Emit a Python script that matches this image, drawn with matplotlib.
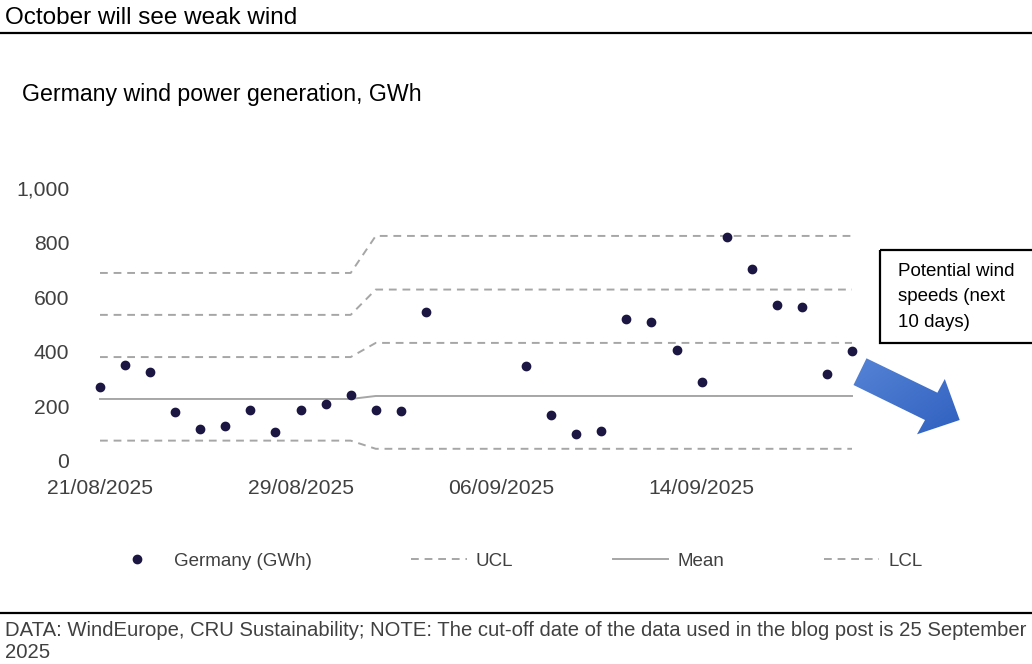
import matplotlib
matplotlib.use("Agg")
import matplotlib.pyplot as plt
import matplotlib.dates as mdates
from matplotlib.patches import Polygon, Rectangle
from matplotlib.lines import Line2D
from matplotlib.colors import LinearSegmentedColormap
import numpy as np
import pandas as pd

plt.rcParams['font.family'] = ['Liberation Sans', 'DejaVu Sans']

# ---------------- data ----------------
dates = pd.date_range("2025-08-21", "2025-09-20", freq="D")
germany_gwh = [269, 350, 324, 177, 115, 126, 184, 104, 184, 206, 240,
               184, 182, 544, np.nan, np.nan, np.nan, 346, 166, 96, 107,
               519, 508, 405, 287, 820, 702, 570, 563, 317, 401]
# control limits (August period, September period)
mean_vals = [226, 237]
ucl_vals = [689, 825]
sig2_vals = [535, 628]
sig1_vals = [380, 432]
lcl_vals = [73, 43]
aug_end = 11  # number of August days in the series

tick_dates = ["2025-08-21", "2025-08-29", "2025-09-06", "2025-09-14"]
legend_labels = ["Germany (GWh)", "UCL", "Mean", "LCL"]
title = "October will see weak wind"
subtitle = "Germany wind power generation, GWh"
note_box = "Potential wind\nspeeds (next\n10 days)"
footer = ("DATA: WindEurope, CRU Sustainability; NOTE: The cut-off date of the data used "
          "in the blog post is 25 September\n2025")


def step_series(vals):
    n = len(dates)
    return [vals[0] if i < aug_end else vals[1] for i in range(n)]


W, H = 1032, 664
fig = plt.figure(figsize=(W / 100, H / 100), dpi=100)

# main axes placement (pixels)
x0_px, x30_px = 100, 852
day_px = (x30_px - x0_px) / 30
left_px = x0_px - day_px
right_px = x30_px + day_px
y0_px, y1000_px = 460.5, 188.3
ax = fig.add_axes([left_px / W, (H - y0_px) / H, (right_px - left_px) / W,
                   (y0_px - y1000_px) / H])

grey = "#a6a6a6"
lw = 1.4
dash = (0, (4, 3))
ax.plot(dates, step_series(ucl_vals), color=grey, lw=lw, ls=dash, label=legend_labels[1])
ax.plot(dates, step_series(sig2_vals), color=grey, lw=lw, ls=dash)
ax.plot(dates, step_series(sig1_vals), color=grey, lw=lw, ls=dash)
ax.plot(dates, step_series(mean_vals), color=grey, lw=lw, ls='-', label=legend_labels[2])
ax.plot(dates, step_series(lcl_vals), color=grey, lw=lw, ls=dash, label=legend_labels[3])
ax.plot(dates, germany_gwh, ls='none', marker='o', ms=6, color="#1b1642",
        label=legend_labels[0], zorder=5)

ax.set_xlim(dates[0] - pd.Timedelta(days=1), dates[-1] + pd.Timedelta(days=1))
ax.set_ylim(0, 1000)
ax.set_yticks([0, 200, 400, 600, 800, 1000])
ax.yaxis.set_major_formatter(matplotlib.ticker.FuncFormatter(lambda v, p: f"{int(v):,}"))
ax.set_xticks(pd.to_datetime(tick_dates))
ax.xaxis.set_major_formatter(mdates.DateFormatter("%d/%m/%Y"))
for s in ax.spines.values():
    s.set_visible(False)
ax.tick_params(axis='both', length=0, labelsize=15.2, labelcolor="#404040")
ax.tick_params(axis='x', pad=13)
ax.tick_params(axis='y', pad=4)

# legend
handles, labels = ax.get_legend_handles_labels()
order = [labels.index(l) for l in legend_labels]
leg = fig.legend([handles[i] for i in order], [labels[i] for i in order],
                 loc='center', bbox_to_anchor=(516 / W, (H - 561) / H), ncol=4,
                 frameon=False, fontsize=13.5, handlelength=2.95, handletextpad=0.5,
                 columnspacing=5.3, labelcolor="#404040")

# overlay axes in pixel coordinates for annotations
ov = fig.add_axes([0, 0, 1, 1], zorder=10)
ov.set_xlim(0, W)
ov.set_ylim(H, 0)
ov.axis('off')

ov.text(5, 18, title, fontsize=17.5, va='center', ha='left', color='black')
ov.add_line(Line2D([0, W], [33, 33], color='black', lw=1.6))
ov.text(22, 94, subtitle, fontsize=16.7, va='center', ha='left', color='black')

ov.add_line(Line2D([0, W], [613, 613], color='black', lw=1.6))
ov.text(5, 621, footer, fontsize=14.6, va='top', ha='left', color='#404040', linespacing=1.2)

# note box
ov.add_patch(Rectangle((880, 250), 200, 93, fill=False, edgecolor='black', lw=1.6))
ov.text(898, 263, note_box, fontsize=13.5, va='top', ha='left', color='black', linespacing=1.65)

# gradient arrow
arrow_pts = [(866.5, 358.3), (937.4, 392.7), (944.8, 379), (959.7, 420),
             (917, 434.3), (925, 420), (853.5, 385)]
poly = Polygon(arrow_pts, closed=True, facecolor='none', edgecolor='none')
ov.add_patch(poly)
gx = np.linspace(0, 1, 64)
grad = np.add.outer(gx, gx) / 2
cmap = LinearSegmentedColormap.from_list("bl", ["#5684d6", "#2f60bf"])
im = ov.imshow(grad, cmap=cmap, extent=(850, 962, 437, 355), origin='upper',
               aspect='auto', zorder=11)
im.set_clip_path(poly)
ov.set_xlim(0, W)
ov.set_ylim(H, 0)

fig.savefig("out.png", dpi=100)
